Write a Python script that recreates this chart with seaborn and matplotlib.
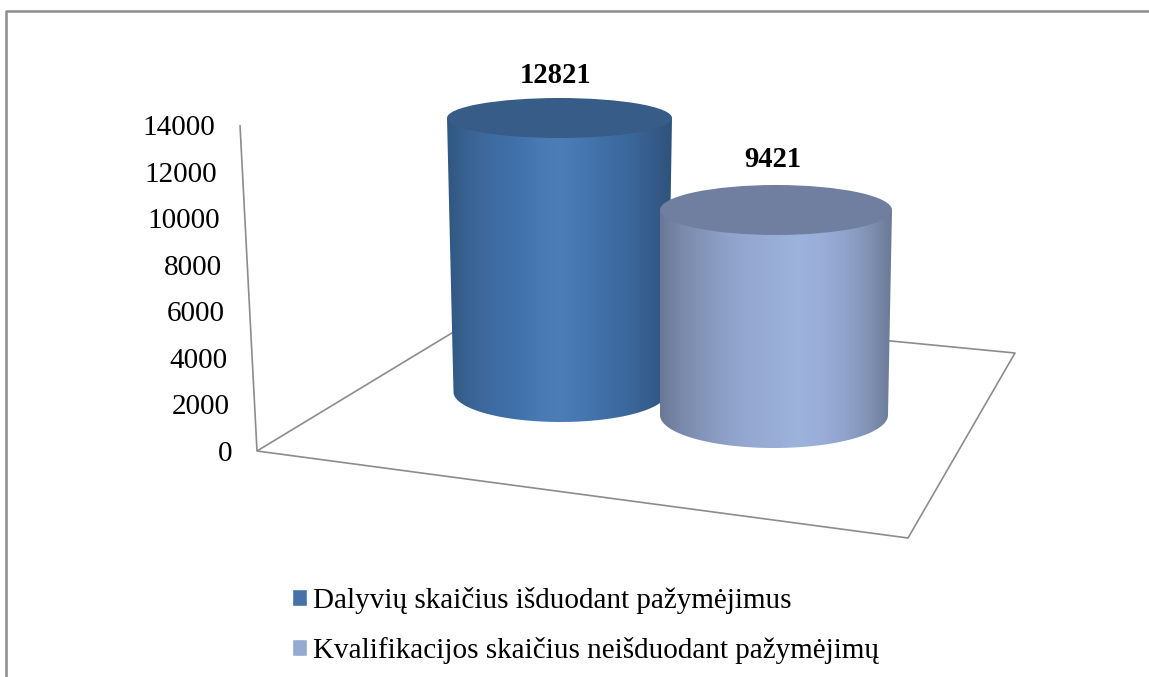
"""3D look cylinder chart: participants vs. qualifications."""
import numpy as np
import pandas as pd
import matplotlib
matplotlib.use("Agg")
import matplotlib.pyplot as plt
import seaborn as sns
from matplotlib.lines import Line2D
from matplotlib.patches import Ellipse, PathPatch
from matplotlib.path import Path
from matplotlib.transforms import Affine2D

series_names = ["Dalyvių skaičius išduodant pažymėjimus",
                "Kvalifikacijos skaičius neišduodant pažymėjimų"]
series_values = [12821, 9421]
axis_ticks = [0, 2000, 4000, 6000, 8000, 10000, 12000, 14000]
legend_colors = ["#4672A8", "#95A9D2"]

W, H = 1149, 677
PX_PER_VALUE = 0.0216
CENTER_PX = [559.5, 776.0]
BASE_PX = [392, 415]          # screen y of each cylinder's base centre
PERSPECTIVE = [0.9894, 1.0074]
TOP_W_PX = [225, 232]
BOTTOM_W_PX = [214, 228]
BOTTOM_SHIFT_PX = [1, -2]
TOP_SEMI_PX = [20, 25]
BOTTOM_SEMI_PX = [30, 33]
LABEL_RISE_PX = [43, 51]
LABEL_SHIFT_PX = [-4, -3]
TOP_COLORS = ["#375C87", "#707F9F"]
GRADIENTS = [
    ["#305781", "#3A6493", "#3E6CA2", "#4070A8", "#4979B3", "#4D7DB7", "#4777B0", "#406FA6", "#3C699D", "#365E8D", "#2E537B"],
    ["#6A7895", "#7A8BAC", "#8597BB", "#8FA3CB", "#95A9D2", "#99AED7", "#9DB3DC", "#98ADD8", "#8FA3CB", "#8193B5", "#6B7995"],
]
GRID_LINE = "#8C8C8C"

sns.set_theme(style="white")
plt.rcParams["font.family"] = ["Liberation Serif", "DejaVu Serif"]


def px_line(fig, xs, ys, lw=1.2):
    # frame lines are given in screen pixels, y measured from the top
    xs = np.asarray(xs, dtype=float) / W
    ys = 1 - np.asarray(ys, dtype=float) / H
    fig.add_artist(Line2D(xs, ys, transform=fig.transFigure, color=GRID_LINE,
                          lw=lw, zorder=-1, solid_capstyle="butt"))


def draw_cylinder(ax, i, patch):
    x_unit = (CENTER_PX[1] - CENTER_PX[0])
    value = patch.get_height()
    cx = patch.get_x() + patch.get_width() / 2
    base_offset = -(BASE_PX[i] - BASE_PX[0]) / PX_PER_VALUE
    tr = Affine2D().scale(1, PERSPECTIVE[i]).translate(0, base_offset) + ax.transData

    half_top = TOP_W_PX[i] / 2 / x_unit
    half_bot = BOTTOM_W_PX[i] / 2 / x_unit
    cx_bot = cx + BOTTOM_SHIFT_PX[i] / x_unit
    semi_bot = BOTTOM_SEMI_PX[i] / PX_PER_VALUE / PERSPECTIVE[i]
    semi_top = TOP_SEMI_PX[i] / PX_PER_VALUE / PERSPECTIVE[i]

    t = np.linspace(np.pi, 2 * np.pi, 80)
    xs = np.r_[cx - half_top, cx_bot + half_bot * np.cos(t), cx + half_top]
    ys = np.r_[value, semi_bot * np.sin(t), value]
    body = PathPatch(Path(np.c_[xs, ys]), fc="none", ec="none", transform=tr, zorder=2 + 2 * i)
    ax.add_patch(body)

    # horizontal shading across the cylinder
    stops = np.array([matplotlib.colors.to_rgb(c) for c in GRADIENTS[i]])
    pos = np.linspace(0, 1, len(stops))
    grid = np.linspace(0, 1, 256)
    shade = np.stack([np.interp(grid, pos, stops[:, k]) for k in range(3)], axis=1)[None, :, :]
    im = ax.imshow(shade, extent=(cx - half_top, cx + half_top, -semi_bot, value),
                   aspect="auto", transform=tr, interpolation="bilinear", zorder=2 + 2 * i)
    im.set_clip_path(body)

    ax.add_patch(Ellipse((cx, value), 2 * half_top, 2 * semi_top, fc=TOP_COLORS[i], ec="none",
                         transform=tr, zorder=3 + 2 * i))
    ax.annotate(f"{int(value)}", xy=(cx, value), xycoords=tr,
                xytext=(LABEL_SHIFT_PX[i] * 0.72, LABEL_RISE_PX[i] * 0.72), textcoords="offset points",
                ha="center", va="center", fontsize=20.6, fontweight="bold", color="black", zorder=10)


def main():
    fig = plt.figure(figsize=(W / 100, H / 100), dpi=100, facecolor="white")

    # chart border and the 3D floor / wall outline
    px_line(fig, [6, 6, W], [H, 11, 11], lw=1.8)
    px_line(fig, [240, 257, 908, 1015, 860], [125, 451, 538, 353, 338])
    px_line(fig, [257, 470], [451, 322])

    ax = fig.add_axes([0, 0, 1, 1])
    df = pd.DataFrame({"series": series_names, "value": series_values})
    sns.barplot(data=df, x="series", y="value", hue="series", hue_order=series_names,
                palette=legend_colors, saturation=1, width=1.0, legend=True, ax=ax)

    unit = CENTER_PX[1] - CENTER_PX[0]
    xmin = -CENTER_PX[0] / unit
    ax.set_xlim(xmin, xmin + W / unit)
    ymin = -(H - BASE_PX[0]) / PX_PER_VALUE
    ax.set_ylim(ymin, ymin + H / PX_PER_VALUE)

    for p in ax.patches:
        p.set_visible(False)
    bars = [b for cont in ax.containers for b in cont if b.get_height() > 0]
    for i, bar in enumerate(bars):
        draw_cylinder(ax, i, bar)
    ax.set_xlim(xmin, xmin + W / unit)
    ax.set_ylim(ymin, ymin + H / PX_PER_VALUE)

    sns.move_legend(ax, "upper left", bbox_to_anchor=(286 / W, 1 - 581 / H), title=None,
                    frameon=False, fontsize=21, handlelength=0.52, handleheight=0.52,
                    handletextpad=0.22, labelspacing=0.78, borderpad=0.2, borderaxespad=0)
    for txt in ax.get_legend().get_texts():
        txt.set_color("black")
    ax.axis("off")
    ax.get_legend().set_visible(True)

    # value axis, its labels follow the slanted wall edge
    ax_val = fig.add_axes([215 / W, (H - 451) / H, 20 / W, 326 / H], zorder=5)
    ax_val.patch.set_visible(False)
    ax_val.set_ylim(0, 14000)
    ax_val.set_xticks([])
    ax_val.set_yticks(axis_ticks)
    ax_val.set_yticklabels([str(v) for v in axis_ticks])
    ax_val.tick_params(axis="y", length=0, pad=0, labelsize=21, labelcolor="black")
    for spine in ax_val.spines.values():
        spine.set_visible(False)
    ax_val.grid(False)
    for v, tick in zip(axis_ticks, ax_val.yaxis.get_major_ticks()):
        label = tick.label1
        label.set_transform(label.get_transform() + Affine2D().translate((14000 - v) / 14000 * 17, 0))

    fig.savefig("out.png", dpi=100)


if __name__ == "__main__":
    main()
